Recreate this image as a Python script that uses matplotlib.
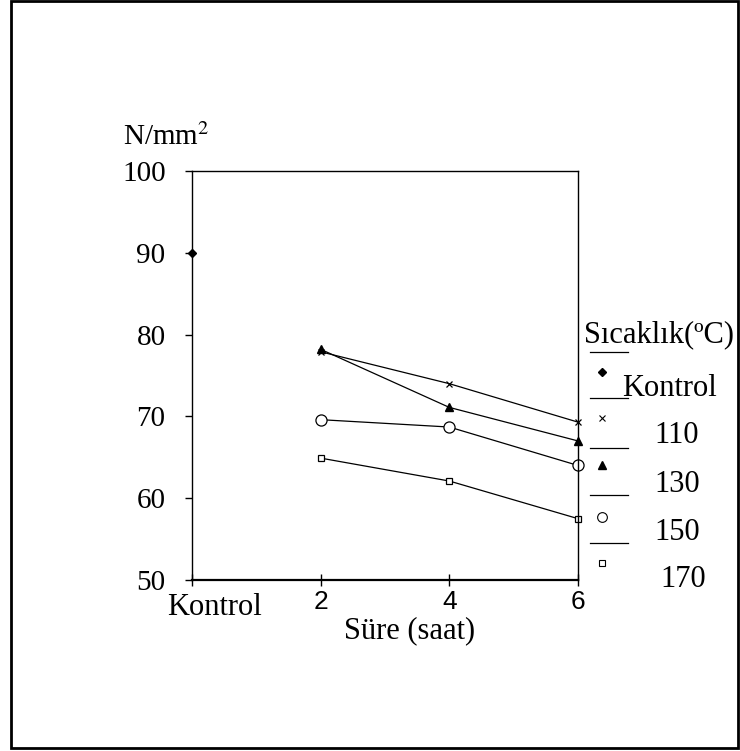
import matplotlib
matplotlib.use("Agg")
import matplotlib.pyplot as plt
from matplotlib.patches import Rectangle
from matplotlib.lines import Line2D

# ---- data ----
hours = [2, 4, 6]
control_x = [0]
control_y = [90]
s110 = [77.9, 74.0, 69.3]
s130 = [78.2, 71.1, 67.0]
s150 = [69.6, 68.7, 64.0]
s170 = [64.9, 62.1, 57.5]
legend_labels = ["Kontrol", "110", "130", "150", "170"]
yticks = [50, 60, 70, 80, 90, 100]
xticks = [0, 2, 4, 6]
xticklabels = ["", "2", "4", "6"]

serif = ["Liberation Serif", "DejaVu Serif"]
sans = ["Liberation Sans", "DejaVu Sans"]

fig = plt.figure(figsize=(7.4, 7.51), dpi=100)
W, H = 740, 751

def fx(px):
    return px / W

def fy(py):
    return 1 - py / H

# outer border
fig.patches.append(Rectangle((fx(11), fy(748)), fx(738) - fx(11), fy(1) - fy(748),
                             transform=fig.transFigure, fill=False, edgecolor="black", lw=2))

ax = fig.add_axes([fx(192), fy(580), fx(578) - fx(192), fy(171) - fy(580)])
ax.set_xlim(0, 6)
ax.set_ylim(50, 100)

ax.plot(control_x, control_y, marker="D", ms=4, color="black", ls="none", clip_on=False)
ax.plot(hours, s110, marker="x", ms=5, mew=0.9, color="black", lw=0.9, clip_on=False)
ax.plot(hours, s130, marker="^", ms=6, color="black", lw=0.9, clip_on=False)
ax.plot(hours, s150, marker="o", ms=8, mfc="white", mec="black", mew=0.9, color="black", lw=0.9, clip_on=False)
ax.plot(hours, s170, marker="s", ms=5, mfc="white", mec="black", mew=0.9, color="black", lw=0.9, clip_on=False)

for sp in ax.spines.values():
    sp.set_linewidth(1.0)
ax.spines["bottom"].set_linewidth(1.6)

ax.set_yticks(yticks)
ax.set_yticklabels([str(v) for v in yticks], family=serif, fontsize=21)
ax.set_xticks(xticks)
ax.set_xticklabels(xticklabels, family=sans, fontsize=19)
ax.tick_params(axis="y", direction="out", length=5, width=1, pad=14)
ax.tick_params(axis="x", direction="inout", length=8, width=1, pad=3)

# x-axis texts
fig.text(fx(215), fy(615), "Kontrol", family=serif, fontsize=22, ha="center", va="baseline")
fig.text(fx(410), fy(638), "Süre (saat)", family=serif, fontsize=22, ha="center", va="baseline")
fig.text(fx(123), fy(145), "N/mm$^2$", family=serif, fontsize=21, ha="left", va="baseline",
         math_fontfamily="stix")

# legend (custom layout)
fig.text(fx(584), fy(342), "Sıcaklık(ºC)", family=serif, fontsize=22, ha="left", va="baseline")
line_ys = [352, 398, 448, 495, 543]
for ly in line_ys:
    fig.add_artist(Line2D([fx(590), fx(628)], [fy(ly), fy(ly)], transform=fig.transFigure,
                          color="black", lw=0.9))
marker_specs = [
    dict(marker="D", ms=4, mfc="black", mec="black"),
    dict(marker="x", ms=4, mfc="black", mec="black", mew=0.8),
    dict(marker="^", ms=6, mfc="black", mec="black"),
    dict(marker="o", ms=7, mfc="white", mec="black", mew=0.8),
    dict(marker="s", ms=5, mfc="white", mec="black", mew=0.8),
]
marker_ys = [372, 418, 465, 517, 563]
for my, spec in zip(marker_ys, marker_specs):
    fig.add_artist(Line2D([fx(602)], [fy(my)], transform=fig.transFigure, ls="none", **spec))
label_pos = [(622, 396), (654, 443), (654, 492), (654, 540), (660, 587)]
for (lx, lyy), lab in zip(label_pos, legend_labels):
    fig.text(fx(lx), fy(lyy), lab, family=serif, fontsize=22, ha="left", va="baseline")

fig.savefig("out.png", dpi=100)
